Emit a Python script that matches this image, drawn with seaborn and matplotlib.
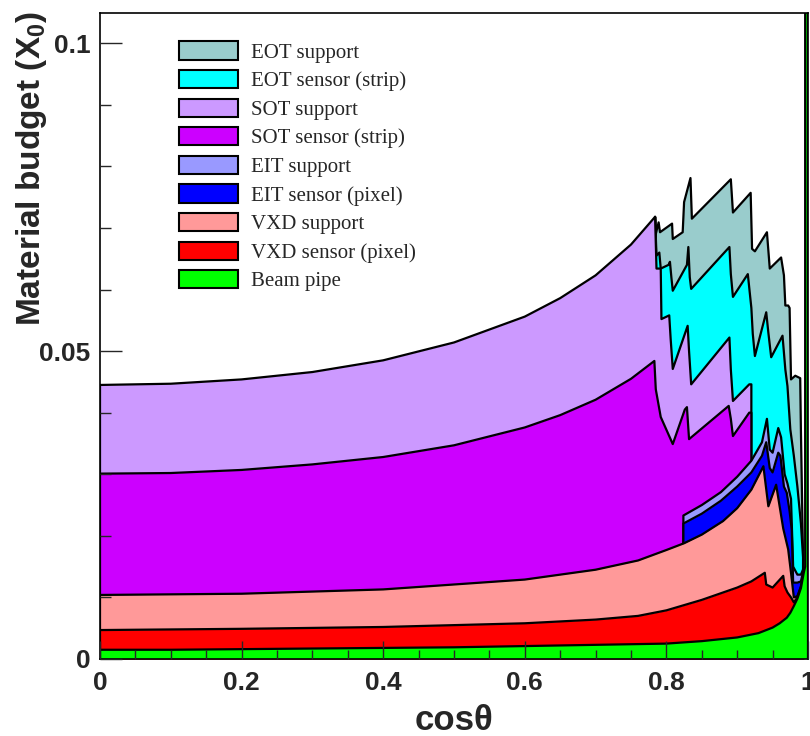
import numpy as np
import matplotlib
matplotlib.use("Agg")
import matplotlib.pyplot as plt
from matplotlib.patches import Patch
from matplotlib.ticker import MultipleLocator, FixedLocator
import seaborn as sns

# stacked material budget vs cos(theta)
# every component is given by the top of its stack (cumulative X0)

# beam pipe
beam_x = [0, 0.1, 0.2, 0.3, 0.4, 0.5, 0.6, 0.7, 0.8, 0.85, 0.9, 0.93, 0.95, 0.96,
          0.97, 0.975, 0.98, 0.985, 0.99, 0.994, 0.996, 0.996, 1.0]
beam_top = [0.0015, 0.0015, 0.0016, 0.0017, 0.0018, 0.0019, 0.0021, 0.0023, 0.0025,
            0.0029, 0.0035, 0.0042, 0.0051, 0.0058, 0.0067, 0.0075, 0.0086, 0.0098,
            0.0115, 0.0140, 0.0150, 0.2, 0.2]

# VXD sensor (pixel)
vxd_sens_x = [0, 0.2, 0.4, 0.6, 0.7, 0.76, 0.8, 0.85, 0.9, 0.92, 0.939, 0.941, 0.95,
              0.965, 0.967, 0.971, 0.976, 0.98, 0.985, 0.99, 0.994]
vxd_sens_top = [0.0047, 0.0049, 0.0052, 0.0058, 0.0064, 0.0070, 0.0079, 0.0096, 0.0116,
                0.0126, 0.0140, 0.0121, 0.0116, 0.0135, 0.0118, 0.0108, 0.0100, 0.0092,
                0.0100, 0.0117, 0.0142]

# VXD support
vxd_supp_x = [0, 0.2, 0.4, 0.6, 0.7, 0.76, 0.8, 0.825, 0.85, 0.88, 0.9, 0.92, 0.937,
              0.944, 0.955, 0.965, 0.972, 0.976, 0.98, 0.985, 0.99, 0.994]
vxd_supp_top = [0.0104, 0.0106, 0.0113, 0.0129, 0.0145, 0.0160, 0.0177, 0.0188, 0.0202,
                0.0224, 0.0245, 0.0275, 0.0313, 0.0248, 0.0283, 0.0212, 0.0178, 0.0140,
                0.0100, 0.0102, 0.0118, 0.0143]

# EIT sensor (pixel)
eit_sens_x = [0.824, 0.85, 0.877, 0.9, 0.92, 0.935, 0.941, 0.946, 0.95, 0.958, 0.961,
              0.966, 0.97, 0.974, 0.977, 0.979, 0.985, 0.99, 0.994]
eit_sens_top = [0.0220, 0.0236, 0.0257, 0.0280, 0.0303, 0.0330, 0.0352, 0.0310, 0.0303,
                0.0335, 0.0330, 0.0280, 0.0270, 0.0240, 0.0210, 0.0124, 0.0124, 0.0126,
                0.0146]

# EIT support
eit_supp_x = [0.824, 0.85, 0.877, 0.9, 0.92, 0.935, 0.942, 0.946, 0.95, 0.958, 0.962,
              0.967, 0.971, 0.976, 0.979, 0.985, 0.99, 0.994]
eit_supp_top = [0.0233, 0.0250, 0.0271, 0.0296, 0.0322, 0.0352, 0.0390, 0.0340, 0.0335,
                0.0375, 0.0360, 0.0300, 0.0285, 0.0260, 0.0150, 0.0137, 0.0137, 0.0148]

# SOT sensor (strip)
sot_sens_x = [0, 0.1, 0.2, 0.3, 0.4, 0.5, 0.6, 0.65, 0.7, 0.75, 0.783, 0.785, 0.792,
              0.809, 0.826, 0.829, 0.832, 0.888, 0.891, 0.894, 0.917, 0.92]
sot_sens_top = [0.0301, 0.0302, 0.0307, 0.0316, 0.0328, 0.0347, 0.0376, 0.0396, 0.0421,
                0.0455, 0.0484, 0.0438, 0.0393, 0.0349, 0.0405, 0.0409, 0.0357, 0.0411,
                0.0390, 0.0362, 0.0400, 0.0400]

# SOT support
sot_supp_x = [0, 0.1, 0.2, 0.3, 0.4, 0.5, 0.6, 0.65, 0.7, 0.75, 0.784, 0.786, 0.792,
              0.793, 0.804, 0.806, 0.809, 0.830, 0.832, 0.835, 0.889, 0.891, 0.894,
              0.917, 0.92]
sot_supp_top = [0.0445, 0.0447, 0.0454, 0.0466, 0.0485, 0.0514, 0.0556, 0.0586, 0.0623,
                0.0673, 0.0718, 0.0634, 0.0634, 0.0552, 0.0558, 0.0520, 0.0471, 0.0541,
                0.0500, 0.0446, 0.0522, 0.0470, 0.0419, 0.0446, 0.0446]

# EOT sensor (strip)
eot_sens_x = [0.784, 0.786, 0.790, 0.792, 0.803, 0.805, 0.807, 0.809, 0.829, 0.831,
              0.833, 0.835, 0.889, 0.891, 0.894, 0.915, 0.920, 0.922, 0.925, 0.941,
              0.944, 0.948, 0.964, 0.968, 0.971, 0.975, 0.98, 0.985, 0.99, 0.993]
eot_sens_top = [0.0718, 0.0655, 0.0660, 0.0634, 0.0640, 0.0645, 0.0620, 0.0598, 0.0640,
                0.0669, 0.0620, 0.0601, 0.0669, 0.0625, 0.0588, 0.0625, 0.0570, 0.0528,
                0.0492, 0.0563, 0.0530, 0.0490, 0.0525, 0.0470, 0.0443, 0.0373, 0.0330,
                0.0280, 0.0220, 0.0165]

# EOT support
eot_supp_x = [0.784, 0.785, 0.789, 0.791, 0.808, 0.809, 0.823, 0.825, 0.834, 0.836,
              0.891, 0.894, 0.919, 0.921, 0.925, 0.942, 0.946, 0.962, 0.966, 0.968,
              0.972, 0.974, 0.976, 0.982, 0.989, 0.990, 0.993]
eot_supp_top = [0.0718, 0.0690, 0.0709, 0.0693, 0.0707, 0.0682, 0.0693, 0.0742, 0.0781,
                0.0715, 0.0779, 0.0725, 0.0757, 0.0666, 0.0662, 0.0693, 0.0634, 0.0652,
                0.0623, 0.0574, 0.0574, 0.0570, 0.0454, 0.0460, 0.0456, 0.0370, 0.0165]

# order = top of the stack first (also the legend order)
layers = [
    ("EOT support", eot_supp_x, eot_supp_top, "#99cccc"),
    ("EOT sensor (strip)", eot_sens_x, eot_sens_top, "#00ffff"),
    ("SOT support", sot_supp_x, sot_supp_top, "#cc99ff"),
    ("SOT sensor (strip)", sot_sens_x, sot_sens_top, "#cc00ff"),
    ("EIT support", eit_supp_x, eit_supp_top, "#9999ff"),
    ("EIT sensor (pixel)", eit_sens_x, eit_sens_top, "#0000ff"),
    ("VXD support", vxd_supp_x, vxd_supp_top, "#ff9999"),
    ("VXD sensor (pixel)", vxd_sens_x, vxd_sens_top, "#ff0000"),
    ("Beam pipe", beam_x, beam_top, "#00ff00"),
]

x_ticks = [0, 0.2, 0.4, 0.6, 0.8, 1.0]
x_ticklabels = ["0", "0.2", "0.4", "0.6", "0.8", "1"]
y_ticks = [0, 0.05, 0.1]
y_ticklabels = ["0", "0.05", "0.1"]

sns.set_style("ticks")
plt.rcParams["font.family"] = ["Liberation Sans", "DejaVu Sans"]
plt.rcParams["mathtext.fontset"] = "custom"
plt.rcParams["mathtext.bf"] = "Liberation Sans:bold"
plt.rcParams["mathtext.rm"] = "Liberation Sans"

fig = plt.figure(figsize=(8.1, 7.36), dpi=100)
ax = fig.add_axes([100 / 810, 77 / 736, 708 / 810, 646 / 736])
ax.set_axisbelow(False)  # ticks drawn over the fills, like ROOT

# painter style stack: each cumulative histogram filled down to 0, lower ones on top
for i, (name, xs, tops, col) in enumerate(layers):
    px = np.r_[xs[0], xs, xs[-1]]
    py = np.r_[0, tops, 0]
    z = 1 + i * 0.1
    ax.fill_between(px, 0, py, color=col, lw=0, zorder=z)
    sns.lineplot(x=px, y=py, sort=False, estimator=None, color="black", lw=1.6,
                 zorder=z + 0.05, ax=ax)

handles = [Patch(facecolor=col, edgecolor="black", lw=1.5, label=name)
           for name, _, _, col in layers]
ax.legend(handles=handles, loc="upper left", bbox_to_anchor=(0.111, 0.956),
          frameon=False, prop={"family": "Liberation Serif", "size": 15},
          handlelength=2.84, handleheight=0.96, labelspacing=0.355,
          handletextpad=0.62, borderpad=0, borderaxespad=0)

ax.set_xlim(0, 1)
ax.set_ylim(0, 0.1049)
ax.xaxis.set_major_locator(FixedLocator(x_ticks))
ax.set_xticklabels(x_ticklabels, fontweight="bold", fontsize=19)
ax.yaxis.set_major_locator(FixedLocator(y_ticks))
ax.set_yticklabels(y_ticklabels, fontweight="bold", fontsize=19)
ax.xaxis.set_minor_locator(MultipleLocator(0.05))
ax.yaxis.set_minor_locator(MultipleLocator(0.01))
ax.tick_params(axis="x", which="major", direction="in", length=13, width=1, pad=9)
ax.tick_params(axis="x", which="minor", direction="in", length=6.5, width=1)
ax.tick_params(axis="y", which="major", direction="in", length=16, width=1, pad=7)
ax.tick_params(axis="y", which="minor", direction="in", length=8, width=1)
for sp in ax.spines.values():
    sp.set_linewidth(1.2)
    sp.set_color("black")

ax.set_xlabel("cos\u03b8", fontsize=25, fontweight="bold", labelpad=6)
ax.set_ylabel(r"Material budget (X$_\mathbf{0}$)", fontsize=24, fontweight="bold")
ax.yaxis.set_label_coords(-0.072, 0.76)

fig.savefig("out.png", dpi=100, facecolor="white")
plt.close(fig)
